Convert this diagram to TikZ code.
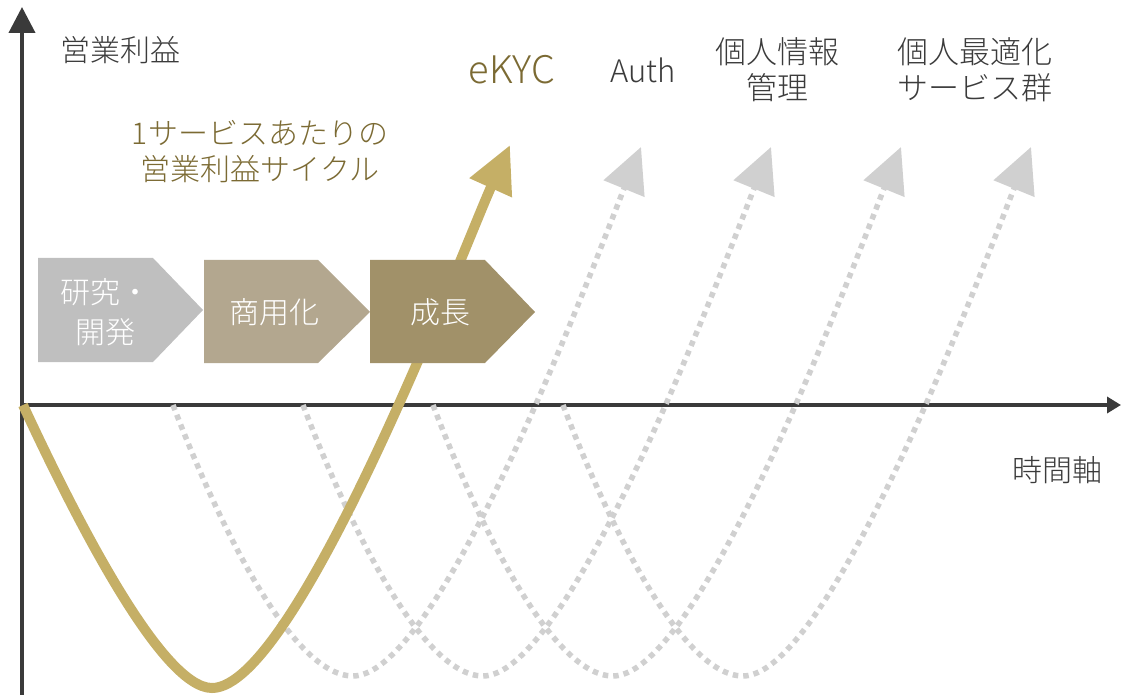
\documentclass[tikz,border=0pt]{standalone}
\usepackage{fontspec}
\setmainfont{Noto Sans CJK JP}[UprightFont=* Light]
\usetikzlibrary{arrows.meta}
\definecolor{axiscol}{HTML}{3A3A3A}
\definecolor{textcol}{HTML}{3B3B3B}
\definecolor{goldline}{HTML}{C5AF66}
\definecolor{goldtext}{HTML}{7B6A33}
\definecolor{dotgray}{HTML}{D0D0D0}
\definecolor{chevA}{HTML}{BFBFBF}
\definecolor{chevB}{HTML}{B3A78F}
\definecolor{chevC}{HTML}{A19169}
\tikzset{
  axisline/.style={draw=axiscol, line width=4pt},
  goldcurve/.style={draw=goldline, line width=10pt, line cap=butt,
    -{Triangle[length=47pt,width=44pt]}},
  dotcurve/.style={draw=dotgray, line width=5.5pt, line cap=butt,
    dash pattern=on 5.5pt off 5pt, -{Triangle[length=45pt,width=43pt]}},
  lbl/.style={inner sep=0pt, text=textcol, align=center, font=\fontsize{30}{36}\selectfont},
  goldlbl/.style={lbl, text=goldtext},
  chevlbl/.style={inner sep=0pt, text=white, align=center, font=\fontsize{30}{40}\selectfont}
}
\begin{document}
\begin{tikzpicture}[x=1pt,y=-1pt]
\useasboundingbox (0,0) rectangle (1122,695);
% axes
\coordinate (origin) at (22,405);
\coordinate (ybot) at (22,695);
\coordinate (ytop) at (22,7);
\coordinate (xend) at (1121,405);
\draw[axisline, -{Triangle[length=26pt,width=26pt]}] (ybot) -- (ytop);
\draw[draw=axiscol, line width=3.5pt, -{Triangle[length=14pt,width=16pt]}] (origin) -- (xend);
% dotted cycles
\foreach \s in {0,130,260,390}{
  \begin{scope}[xshift=\s pt]
  \coordinate (ds) at (173,405);
  \coordinate (dm) at (353,676);
  \coordinate (dt) at (641,147);
  \draw[dotcurve] (ds) .. controls (215,515) and (290,676) .. (dm)
                       .. controls (443,676) and (603.2,239.6) .. (dt);
  \end{scope}
}
% gold cycle
\coordinate (gs) at (23,405);
\coordinate (gm) at (212,688);
\coordinate (gt) at (510,145);
\draw[goldcurve] (gs) .. controls (70,506) and (160,688) .. (gm)
                      .. controls (297,688) and (464.7,245.2) .. (gt);
% chevrons
\fill[chevA] (38,258) -- (153,258) -- (203,310) -- (153,362) -- (38,362) -- cycle;
\fill[chevB] (204,260) -- (318,260) -- (370,312) -- (318,363) -- (204,363) -- cycle;
\fill[chevC] (370,260) -- (485,260) -- (535,312) -- (485,363) -- (370,363) -- cycle;
\node[chevlbl] (kenkyu) at (105,312) {研究・\\開発};
\node[chevlbl] (shoyo) at (274,312) {商用化};
\node[chevlbl] (seicho) at (440,312) {成長};
% labels
\node[lbl] (yl) at (120,50) {営業利益};
\node[lbl] (xl) at (1057,470) {時間軸};
\node[goldlbl] (cycle) at (260,152) {1サービスあたりの\\営業利益サイクル};
\node[goldlbl, font=\fontsize{38}{44}\selectfont] (ekyc) at (512,70) {eKYC};
\node[lbl, font=\fontsize{31}{36}\selectfont] (auth) at (643,70) {Auth};
\node[lbl, font=\fontsize{31}{36}\selectfont] (kojin) at (777,70) {個人情報\\管理};
\node[lbl, font=\fontsize{31}{36}\selectfont] (saiteki) at (975,70) {個人最適化\\サービス群};
\end{tikzpicture}
\end{document}
